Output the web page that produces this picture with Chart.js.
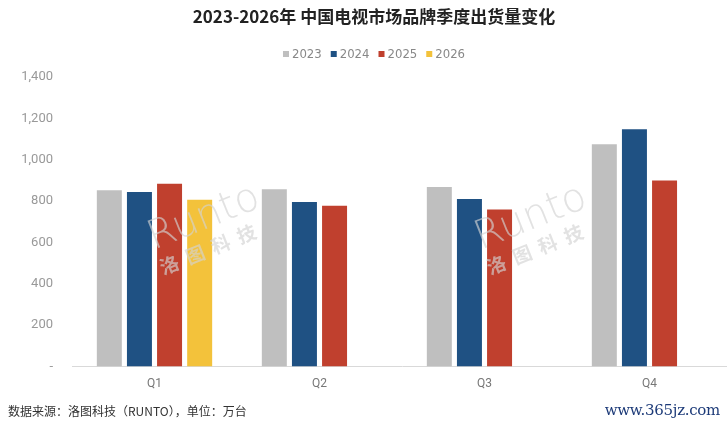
<!DOCTYPE html>
<html>
<head>
<meta charset="utf-8">
<script src="https://cdn.jsdelivr.net/npm/chart.js@4/dist/chart.umd.min.js"></script>
<style>
  html, body { margin: 0; padding: 0; background: #fff; }
  #page { position: relative; width: 727px; height: 431px; overflow: hidden; }
  #box { position: absolute; left: 0; top: 0; width: 736px; height: 431px; }
  .src { position: absolute; left: 8px; top: 402px; font: 12px "Noto Sans CJK SC", sans-serif; color: #333; }
  .site { position: absolute; right: 7px; top: 401px; font: 15px "DejaVu Serif", serif; color: #1c3a78; letter-spacing: -0.3px; }
</style>
</head>
<body>
<div id="page">
  <div id="box"><canvas id="chart"></canvas></div>
  <div class="src">数据来源：洛图科技（RUNTO），单位：万台</div>
  <div class="site">www.365jz.com</div>
</div>
<script>
// ── Data ────────────────────────────────────────────────────────────────────
const quarters = ['Q1', 'Q2', 'Q3', 'Q4'];
const years = ['2023', '2024', '2025', '2026'];
const ship2023 = [852, 857, 868, 1075];
const ship2024 = [844, 796, 810, 1147];
const ship2025 = [884, 778, 760, 900];
const ship2026 = [807, null, null, null];
const yTicks = [0, 200, 400, 600, 800, 1000, 1200, 1400];

const titleText = '2023-2026年 中国电视市场品牌季度出货量变化';
const colors = ['#bfbfbf', '#1f5183', '#c0402e', '#f3c23b'];
const headerCenterX = 374;

// faint RUNTO watermark over the plot
const watermark = {
    id: 'watermark',
    afterDatasetsDraw(chart) {
        const { ctx } = chart;
        [[208, 228], [535, 228]].forEach(([x, y]) => {
            ctx.save();
            ctx.translate(x, y);
            ctx.rotate(-0.38);
            ctx.fillStyle = 'rgba(210,210,210,0.65)';
            ctx.font = '300 40px "DejaVu Sans", sans-serif';
            ctx.textAlign = 'center';
            ctx.fillText('Runto', 0, 0);
            ctx.font = 'bold 19px "Noto Sans CJK SC", sans-serif';
            ctx.fillText('洛  图  科  技', -8, 27);
            ctx.restore();
        });
    },
};

// title + compact legend row (the picture's header sits a little right of centre)
const header = {
    id: 'header',
    afterDraw(chart) {
        const { ctx } = chart;
        ctx.save();
        ctx.textBaseline = 'middle';
        ctx.textAlign = 'center';
        ctx.fillStyle = '#222';
        ctx.font = 'bold 17px "Noto Sans CJK SC", sans-serif';
        ctx.fillText(titleText, headerCenterX, 17);

        const box = 6, gap = 3, spacing = 9, y = 54;
        ctx.textAlign = 'left';
        ctx.font = '13px "DejaVu Sans Condensed", "DejaVu Sans", sans-serif';
        const items = chart.data.datasets.map((ds) => ({
            label: ds.label,
            color: ds.backgroundColor,
            w: box + gap + ctx.measureText(ds.label).width,
        }));
        const total = items.reduce((s, it) => s + it.w, 0) + spacing * (items.length - 1);
        let x = headerCenterX - total / 2;
        items.forEach((it) => {
            ctx.fillStyle = it.color;
            ctx.fillRect(x, y - box / 2, box, box);
            ctx.fillStyle = '#888';
            ctx.fillText(it.label, x + box + gap, y + 1);
            x += it.w + spacing;
        });
        ctx.restore();
    },
};

new Chart(document.getElementById('chart'), {
    type: 'bar',
    data: {
        labels: quarters,
        datasets: [ship2023, ship2024, ship2025, ship2026].map((data, i) => ({
            label: years[i],
            data,
            backgroundColor: colors[i],
            barPercentage: 0.83,
            categoryPercentage: 0.73,
        })),
    },
    options: {
        responsive: true,
        maintainAspectRatio: false,
        animation: false,
        layout: { padding: { top: 77, bottom: 38, right: 4 } },
        plugins: {
            title: { display: false },
            legend: { display: false },
            tooltip: { enabled: false },
        },
        scales: {
            x: {
                grid: { display: false },
                border: { color: '#d9d9d9' },
                ticks: { color: '#777', font: { size: 12, family: 'Roboto, sans-serif' }, padding: 2 },
            },
            y: {
                min: 0,
                max: 1400,
                afterBuildTicks: (axis) => { axis.ticks = yTicks.map((v) => ({ value: v })); },
                afterFit: (axis) => { axis.width = 72; },
                grid: { display: false },
                border: { display: false },
                ticks: {
                    color: '#999',
                    padding: 11,
                    font: { size: 13, family: 'Roboto, sans-serif' },
                    callback: (v) => (v === 0 ? '-' : v.toLocaleString('en-US')),
                },
            },
        },
    },
    plugins: [watermark, header],
});
</script>
</body>
</html>
